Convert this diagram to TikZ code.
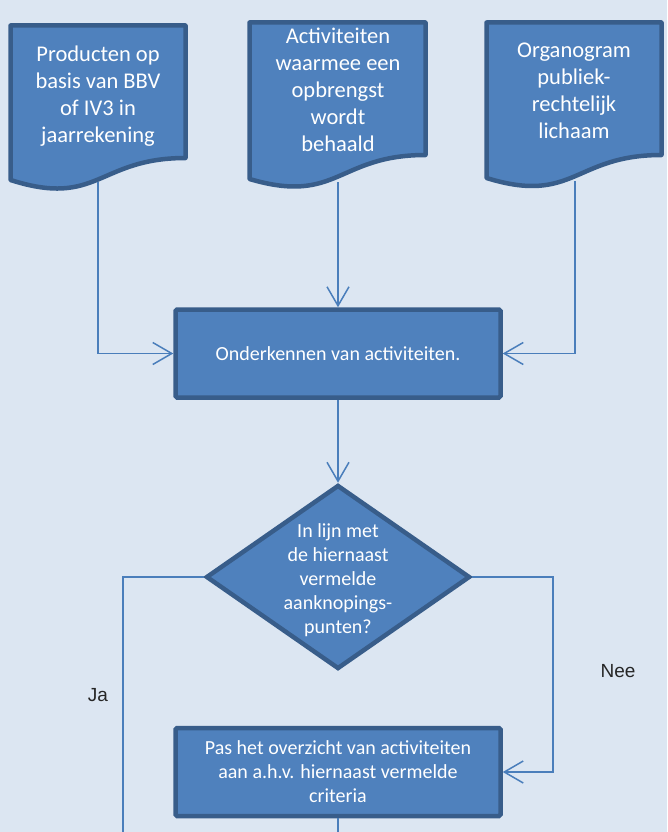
\documentclass[tikz,border=0pt]{standalone}
\usepackage{fontspec}
\setmainfont{Carlito}
\newfontfamily\labelfont{Liberation Sans}
\usetikzlibrary{arrows.meta,shapes.geometric}

\definecolor{achtergrond}{HTML}{DCE6F2}
\definecolor{vulling}{HTML}{4F81BD}
\definecolor{rand}{HTML}{385D8A}
\definecolor{lijn}{HTML}{4A7EBB}

\tikzset{
	docvorm/.style={fill=vulling,draw=rand,line width=4.5pt,line join=round},
	doctekst/.style={align=center,text=white,font=\fontsize{22.5}{27}\selectfont},
	proces/.style={rectangle,fill=vulling,draw=rand,line width=4.5pt,rounded corners=1.5pt,
		minimum width=325pt,minimum height=88pt,text=white,align=center,font=\fontsize{20}{24}\selectfont},
	beslis/.style={diamond,fill=vulling,draw=rand,line width=4.5pt,minimum width=264pt,minimum height=184pt,inner sep=0pt},
	beslistekst/.style={align=center,text=white,font=\fontsize{20}{24}\selectfont},
	pijl/.style={draw=lijn,line width=1.5pt,-{Straight Barb[length=19pt,width=22pt]}},
	lijnstuk/.style={draw=lijn,line width=1.5pt},
	keuze/.style={text=black!85,font=\labelfont\fontsize{19}{23}\selectfont}
}

\begin{document}
\begin{tikzpicture}[x=1pt,y=-1pt]
				\fill[achtergrond] (0,0) rectangle (667,832);
				\useasboundingbox (0,0) rectangle (667,832);
				% Documenten
				\draw[docvorm] (10.5,25.5) -- (185.5,25.5) -- (185.5,158) .. controls (98,158) and (98,208) .. (10.5,180) -- cycle;
				\draw[docvorm] (249.5,22.5) -- (425.5,22.5) -- (425.5,155) .. controls (337.5,155) and (337.5,205) .. (249.5,179) -- cycle;
				\draw[docvorm] (486.5,22.5) -- (661.5,22.5) -- (661.5,155) .. controls (574,155) and (574,205) .. (486.5,178) -- cycle;
				\node[doctekst] (producten) at (98,96) {Producten op\\basis van BBV\\of IV3 in\\jaarrekening};
				\node[doctekst] (activiteiten) at (338,90) {Activiteiten\\waarmee een\\opbrengst\\wordt\\behaald};
				\node[doctekst] (organogram) at (574,91) {Organogram\\publiek-\\rechtelijk\\lichaam};
				\coordinate (productenvoet) at (98,182);
				\coordinate (activiteitenvoet) at (338,182);
				\coordinate (organogramvoet) at (575,181);
				% Stappen
				\node[proces] (onderkennen) at (338,353.5) {Onderkennen van activiteiten.};
				\node[beslis] (vraag) at (338,577) {};
				\node[beslistekst] (vraagtekst) at (338,580) {In lijn met\\de hiernaast\\vermelde\\aanknopings-\\punten?};
				\node[proces] (aanpassen) at (338,772) {Pas het overzicht van activiteiten\\aan a.h.v. hiernaast vermelde\\criteria};
				\coordinate (neebocht) at (553,700);
				\coordinate (jaeinde) at (123,832);
				\coordinate (aanpasseneinde) at (338,832);
				% Pijlen
				\draw[pijl] (productenvoet) |- (onderkennen.west);
				\draw[pijl] (activiteitenvoet) -- (onderkennen.north);
				\draw[pijl] (organogramvoet) |- (onderkennen.east);
				\draw[pijl] (onderkennen.south) -- (vraag.north);
				\draw[pijl] (vraag.east) -| (neebocht) |- (aanpassen.east);
				\draw[lijnstuk] (vraag.west) -| (jaeinde);
				\draw[lijnstuk] (aanpassen.south) -- (aanpasseneinde);
				\node[keuze] (nee) at (618,671) {Nee};
				\node[keuze] (ja) at (98,695) {Ja};
\end{tikzpicture}
\end{document}
